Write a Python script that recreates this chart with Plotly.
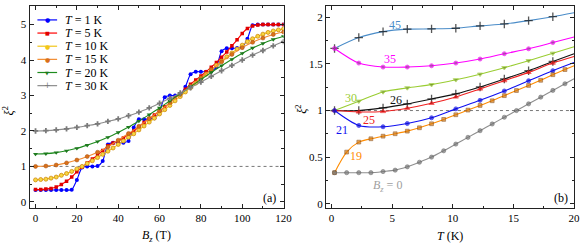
import plotly.graph_objects as go

W, H = 587, 247
def px(x): return x / W
def py(y): return 1 - y / H

# ---------------- Panel (a) data ----------------
B_fine = [0, 2.5, 5, 7.5, 10, 12.5, 15, 17.5, 20, 22.5, 25, 27.5, 30, 32.5, 35, 37.5, 40, 42.5, 45, 47.5,
          50, 52.5, 55, 57.5, 60, 62.5, 65, 67.5, 70, 72.5, 75, 77.5, 80, 82.5, 85, 87.5, 90, 92.5, 95, 97.5,
          100, 102.5, 105, 107.5, 110, 112.5, 115, 117.5, 120]
B_coarse = [0, 5, 10, 15, 20, 25, 30, 35, 40, 45, 50, 55, 60, 65, 70, 75, 80, 85, 90, 95, 100, 105, 110, 115, 120]

xi_T1 = [0.333, 0.333, 0.333, 0.333, 0.333, 0.333, 0.333, 0.34, 0.62, 0.97, 1.0, 1.0, 1.01, 1.15, 1.62, 1.67,
         1.67, 1.67, 1.72, 2.1, 2.33, 2.33, 2.34, 2.36, 2.55, 2.95, 3.0, 3.0, 3.03, 3.25, 3.6, 3.67, 3.67, 3.67,
         3.68, 3.8, 4.25, 4.33, 4.33, 4.34, 4.36, 4.6, 4.98, 5.0, 5.0, 5.0, 5.0, 5.0, 5.0]
xi_T5 = [0.35, 0.35, 0.36, 0.38, 0.42, 0.49, 0.58, 0.7, 0.85, 0.98, 1.1, 1.21, 1.32, 1.45, 1.58, 1.66, 1.72,
         1.8, 1.9, 2.0, 2.12, 2.24, 2.35, 2.45, 2.56, 2.68, 2.8, 2.93, 3.05, 3.18, 3.32, 3.44, 3.55, 3.67, 3.8,
         3.93, 4.08, 4.23, 4.4, 4.57, 4.75, 4.89, 4.96, 4.99, 5.0, 5.0, 5.0, 5.0, 5.0]
xi_T10 = [0.62, 0.63, 0.64, 0.67, 0.7, 0.75, 0.8, 0.86, 0.93, 1.0, 1.08, 1.16, 1.25, 1.34, 1.43, 1.52, 1.62,
          1.72, 1.82, 1.92, 2.03, 2.14, 2.25, 2.36, 2.48, 2.6, 2.72, 2.85, 2.97, 3.1, 3.22, 3.35, 3.47, 3.6,
          3.72, 3.85, 3.97, 4.09, 4.2, 4.31, 4.42, 4.52, 4.6, 4.67, 4.73, 4.78, 4.82, 4.85, 4.88]
xi_T15 = [1.0, 1.01, 1.04, 1.1, 1.18, 1.28, 1.4, 1.55, 1.74, 1.93, 2.13, 2.35, 2.57, 2.8, 3.03, 3.27, 3.5,
          3.73, 3.95, 4.16, 4.35, 4.5, 4.62, 4.72, 4.79]
xi_T20 = [1.35, 1.36, 1.39, 1.44, 1.51, 1.6, 1.7, 1.82, 1.96, 2.11, 2.28, 2.46, 2.65, 2.85, 3.05, 3.25, 3.45,
          3.65, 3.84, 4.02, 4.19, 4.34, 4.47, 4.58, 4.67]
xi_T30 = [2.0, 2.01, 2.03, 2.06, 2.1, 2.15, 2.2, 2.27, 2.34, 2.43, 2.53, 2.65, 2.78, 2.92, 3.07, 3.22, 3.38,
          3.54, 3.7, 3.85, 4.0, 4.14, 4.27, 4.4, 4.52]

legend_labels = ["1", "5", "10", "15", "20", "30"]

# ---------------- Panel (b) data ----------------
T_2K = [0.25, 2.25, 4.25, 6.25, 8.25, 10.25, 12.25, 14.25, 16.25, 18.25, 20]
T_1K = [0.25, 1.25, 2.25, 3.25, 4.25, 5.25, 6.25, 7.25, 8.25, 9.25, 10.25, 11.25, 12.25, 13.25, 14.25,
        15.25, 16.25, 17.25, 18.25, 19.25, 20]
xi_B45 = [1.667, 1.784, 1.848, 1.874, 1.877, 1.884, 1.909, 1.93, 1.966, 2.008, 2.05]
xi_B35 = [1.667, 1.51, 1.467, 1.467, 1.481, 1.51, 1.553, 1.61, 1.663, 1.73, 1.79]
xi_B30 = [1.0, 1.1, 1.2, 1.243, 1.278, 1.33, 1.39, 1.46, 1.535, 1.615, 1.685]
xi_B26 = [1.0, 1.0, 1.029, 1.072, 1.125, 1.179, 1.253, 1.339, 1.428, 1.527, 1.61]
xi_B25 = [1.0, 0.985, 0.99, 1.025, 1.078, 1.146, 1.232, 1.321, 1.41, 1.51, 1.58]
xi_B21 = [1.0, 0.84, 0.826, 0.861, 0.922, 1.018, 1.11, 1.21, 1.32, 1.428, 1.515]
xi_B19 = [0.333, 0.554, 0.661, 0.697, 0.725, 0.751, 0.779, 0.815, 0.858, 0.905, 0.955, 1.005, 1.055, 1.105,
          1.16, 1.215, 1.27, 1.325, 1.385, 1.44, 1.48]
xi_B0 = [0.333, 0.333, 0.333, 0.333, 0.345, 0.36, 0.396, 0.445, 0.5, 0.568, 0.64, 0.712, 0.784, 0.856,
         0.928, 1.0, 1.072, 1.144, 1.216, 1.288, 1.342]

FONT = "Liberation Serif"
fig = go.Figure()

# Panel (a) traces
left_specs = [
    (B_fine, xi_T1, "#0000FF", dict(symbol="circle", size=4, color="#0000FF")),
    (B_fine, xi_T5, "#FF0000", dict(symbol="square", size=3.5, color="#E00000")),
    (B_fine, xi_T10, "#F2C618", dict(symbol="circle", size=4, color="#F7D640", line=dict(color="#D08A10", width=0.8))),
    (B_coarse, xi_T15, "#F28A2E", dict(symbol="circle", size=4, color="#D9701A", line=dict(color="#A65010", width=0.5))),
    (B_coarse, xi_T20, "#1E8C1E", dict(symbol="triangle-down", size=4.5, color="#1E7A1E")),
    (B_coarse, xi_T30, "#8C8C8C", dict(symbol="cross", size=4.5, color="#7A7A7A")),
]
for xs, ys, col, mk in left_specs:
    fig.add_trace(go.Scatter(x=xs, y=ys, mode="lines+markers",
                             line=dict(color=col, width=1.1, shape="spline", smoothing=0.6),
                             marker=mk, xaxis="x", yaxis="y", showlegend=False, hoverinfo="skip"))

# Panel (b) traces
def msize(n, s):
    return [s] * (n - 1) + [0]

right_specs = [
    (T_2K, xi_B45, "#4A8CC8", dict(symbol="cross-thin", size=6, color="#111", line=dict(color="#111", width=1.3))),
    (T_2K, xi_B35, "#FF00FF", dict(symbol="circle", size=4, color="#9B3A9B")),
    (T_2K, xi_B30, "#9ACD32", dict(symbol="triangle-down", size=4.5, color="#6E8A2A")),
    (T_2K, xi_B26, "#111111", dict(symbol="cross-thin", size=6, color="#111", line=dict(color="#111", width=1.3))),
    (T_2K, xi_B25, "#F02020", dict(symbol="triangle-up", size=4.5, color="#C01010")),
    (T_2K, xi_B21, "#1010F0", dict(symbol="circle", size=4, color="#0A0AD0")),
    (T_1K, xi_B19, "#FF8C00", dict(symbol="square", size=3.8, color="#D47A10", line=dict(color="#7A3A00", width=0.7))),
    (T_1K, xi_B0, "#8E8E8E", dict(symbol="circle", size=4.2, color="#777777", line=dict(color="#444", width=0.6))),
]
for xs, ys, col, mk in right_specs:
    mk = dict(mk)
    mk["size"] = msize(len(xs), mk["size"])
    fig.add_trace(go.Scatter(x=xs, y=ys, mode="lines+markers",
                             line=dict(color=col, width=1.1, shape="spline", smoothing=0.8),
                             marker=mk, xaxis="x2", yaxis="y2", showlegend=False, hoverinfo="skip"))

axis_common = dict(showline=True, linecolor="#222", linewidth=1, mirror="ticks", ticks="inside", ticklen=4,
                   tickwidth=1, tickcolor="#222", showgrid=False, zeroline=False,
                   tickfont=dict(family=FONT, size=11, color="black"))

fig.update_layout(
    width=W, height=H, margin=dict(l=0, r=0, t=0, b=0),
    paper_bgcolor="white", plot_bgcolor="white", showlegend=False,
    xaxis=dict(domain=[px(30), px(288)], range=[-2.9, 120], anchor="y", tick0=0, dtick=20,
               minor=dict(dtick=10, ticks="inside", ticklen=2.5, tickcolor="#222"), **axis_common),
    yaxis=dict(domain=[py(209), py(6)], range=[-0.177, 5.525], anchor="x", tick0=0, dtick=1,
               minor=dict(dtick=0.5, ticks="inside", ticklen=2.5, tickcolor="#222"), **axis_common),
    xaxis2=dict(domain=[px(331), px(583)], range=[-0.46, 20], anchor="y2", tick0=0, dtick=5,
                minor=dict(dtick=2.5, ticks="inside", ticklen=2.5, tickcolor="#222"), **axis_common),
    yaxis2=dict(domain=[py(209), py(6)], range=[-0.048, 2.123], anchor="x2", tick0=0, dtick=0.5,
                minor=dict(dtick=0.25, ticks="inside", ticklen=2.5, tickcolor="#222"), **axis_common),
)

shapes = [
    dict(type="line", xref="x domain", yref="y", x0=0, x1=1, y0=1, y1=1,
         line=dict(color="#777", width=1, dash="dot"), layer="below"),
    dict(type="line", xref="x2 domain", yref="y2", x0=0, x1=1, y0=1, y1=1,
         line=dict(color="#777", width=1, dash="dot"), layer="below"),
]
annotations = []

# Hand-drawn legend in panel (a)
leg_glyphs = [("●", "#0000FF", 6), ("■", "#E00000", 5), ("●", "#F2C618", 6), ("●", "#D9701A", 6),
              ("▼", "#1E7A1E", 5), ("+", "#7A7A7A", 8)]
leg_lines = ["#0000FF", "#FF0000", "#F2C618", "#F28A2E", "#1E8C1E", "#8C8C8C"]
for i, lab in enumerate(legend_labels):
    yy = 20 + 13.2 * i
    shapes.append(dict(type="line", xref="paper", yref="paper", x0=px(38), x1=px(58), y0=py(yy), y1=py(yy),
                       line=dict(color=leg_lines[i], width=1.2)))
    g, gc, gs = leg_glyphs[i]
    annotations.append(dict(xref="paper", yref="paper", x=px(48), y=py(yy), text=g, showarrow=False,
                            font=dict(family="DejaVu Sans", size=gs, color=gc), xanchor="center", yanchor="middle"))
    annotations.append(dict(xref="paper", yref="paper", x=px(64), y=py(yy), text=f"<i>T</i> = {lab} K",
                            showarrow=False, font=dict(family=FONT, size=12, color="black"),
                            xanchor="left", yanchor="middle"))

# Axis titles and panel tags
annotations += [
    dict(xref="paper", yref="paper", x=px(159), y=py(237), text="<i>B<sub>z</sub></i> (T)", showarrow=False,
         font=dict(family=FONT, size=12, color="black"), xanchor="center", yanchor="middle"),
    dict(xref="paper", yref="paper", x=px(457), y=py(237), text="<i>T</i> (K)", showarrow=False,
         font=dict(family=FONT, size=12, color="black"), xanchor="center", yanchor="middle"),
    dict(xref="paper", yref="paper", x=px(9), y=py(111), text="<i>ξ</i><sup>2</sup>", showarrow=False,
         textangle=-90, font=dict(family=FONT, size=12, color="black"), xanchor="center", yanchor="middle"),
    dict(xref="paper", yref="paper", x=px(306), y=py(110), text="<i>ξ</i><sup>2</sup>", showarrow=False,
         textangle=-90, font=dict(family=FONT, size=12, color="black"), xanchor="center", yanchor="middle"),
    dict(xref="paper", yref="paper", x=px(274), y=py(199), text="(a)", showarrow=False,
         font=dict(family=FONT, size=12, color="black"), xanchor="center", yanchor="middle"),
    dict(xref="paper", yref="paper", x=px(570), y=py(199), text="(b)", showarrow=False,
         font=dict(family=FONT, size=12, color="black"), xanchor="center", yanchor="middle"),
]

# Curve labels in panel (b)
curve_labels = [
    ("45", 5.27, 1.92, "#4A8CC8"), ("35", 4.81, 1.553, "#FF00FF"), ("30", 1.57, 1.136, "#9ACD32"),
    ("26", 5.35, 1.118, "#111111"), ("25", 3.1, 0.896, "#F02020"), ("21", 0.86, 0.79, "#1010F0"),
    ("19", 2.03, 0.51, "#FF8C00"), ("<i>B<sub>z</sub></i> = 0", 4.59, 0.19, "#A0A0A0"),
]
for txt, xx, yy, col in curve_labels:
    annotations.append(dict(xref="x2", yref="y2", x=xx, y=yy, text=txt, showarrow=False,
                            font=dict(family=FONT, size=12, color=col), xanchor="center", yanchor="middle"))

fig.update_layout(shapes=shapes, annotations=annotations)
fig.write_html("out.html", config={"displayModeBar": False, "staticPlot": True},
               post_script="document.body.style.margin='0';document.body.style.overflow='hidden';")
